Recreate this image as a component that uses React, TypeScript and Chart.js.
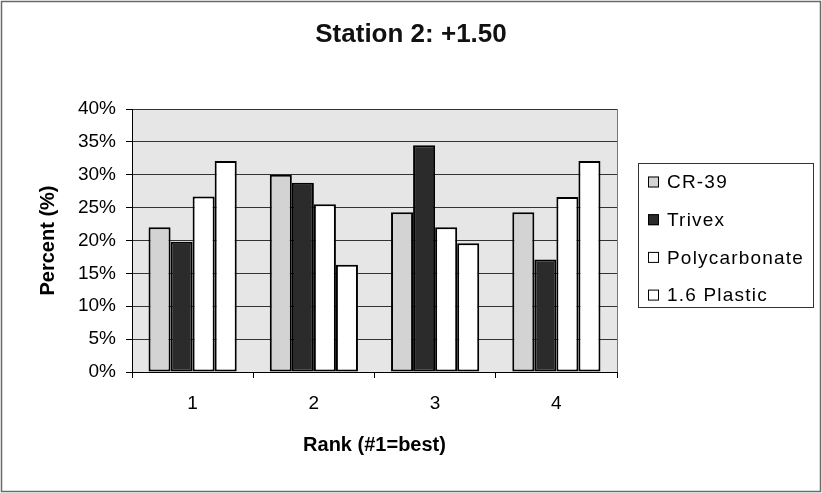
import React, { useEffect, useRef } from "react";
import { Chart, registerables } from "chart.js";

Chart.register(...registerables);

const categories = ["1", "2", "3", "4"];
const seriesNames = ["CR-39", "Trivex", "Polycarbonate", "1.6 Plastic"];
const cr39 = [22.0, 30.0, 24.3, 24.3];
const trivex = [19.8, 28.8, 34.5, 17.1];
const polycarbonate = [26.7, 25.5, 22.0, 26.6];
const plastic16 = [32.1, 16.3, 19.6, 32.1];
const seriesColors = ["#d3d3d3", "#2b2b2b", "#ffffff", "#ffffff"];
const yTicks = [0, 5, 10, 15, 20, 25, 30, 35, 40];

const FONT = "Arial, 'Liberation Sans', sans-serif";

const framePlugin = {
  id: "frame",
  beforeDraw(chart: any) {
    const { ctx, chartArea: a, width, height } = chart;
    ctx.save();
    ctx.fillStyle = "#ffffff";
    ctx.fillRect(0, 0, width, height);
    ctx.strokeStyle = "#6a6a6a";
    ctx.lineWidth = 1.5;
    ctx.strokeRect(1.5, 1.5, width - 3, height - 3);
    ctx.fillStyle = "#e6e6e6";
    ctx.fillRect(a.left, a.top, a.right - a.left, a.bottom - a.top);
    ctx.strokeStyle = "#777777";
    ctx.lineWidth = 1;
    ctx.strokeRect(a.left + 0.5, a.top + 0.5, a.right - a.left, a.bottom - a.top);
    ctx.restore();
  },
  afterDraw(chart: any) {
    const { ctx, chartArea: a } = chart;
    const bx = a.right + 21;
    const by = 163;
    const bw = 175;
    const bh = 144;
    ctx.save();
    ctx.fillStyle = "#ffffff";
    ctx.fillRect(bx, by, bw, bh);
    ctx.strokeStyle = "#333333";
    ctx.lineWidth = 1;
    ctx.strokeRect(bx + 0.5, by + 0.5, bw, bh);
    const rowH = 37.7;
    chart.data.datasets.forEach((ds: any, i: number) => {
      const cy = by + 19 + i * rowH;
      ctx.fillStyle = ds.backgroundColor;
      ctx.fillRect(bx + 10, cy - 5.5, 11, 11);
      ctx.strokeStyle = "#000";
      ctx.lineWidth = 1;
      ctx.strokeRect(bx + 10.5, cy - 5, 10, 10);
      ctx.fillStyle = "#000";
      ctx.font = `19px ${FONT}`;
      (ctx as any).letterSpacing = "1.2px";
      ctx.textBaseline = "middle";
      ctx.textAlign = "left";
      ctx.fillText(ds.label, bx + 29, cy + 1);
    });
    ctx.restore();
  },
};

export default function App() {
  const ref = useRef<HTMLCanvasElement | null>(null);
  useEffect(() => {
    if (!ref.current) return;
    const values = [cr39, trivex, polycarbonate, plastic16];
    const chart = new Chart(ref.current, {
      type: "bar",
      data: {
        labels: categories,
        datasets: seriesNames.map((name, i) => ({
          label: name,
          data: values[i],
          backgroundColor: seriesColors[i],
          borderColor: "#000000",
          borderWidth: 2,
          borderSkipped: false,
          categoryPercentage: 4 / 5.5,
          barPercentage: 1,
        })),
      },
      options: {
        responsive: false,
        animation: false,
        layout: { padding: 0 },
        plugins: {
          legend: { display: false },
          tooltip: { enabled: false },
          title: {
            display: true,
            text: "Station 2: +1.50",
            color: "#111",
            font: { family: FONT, size: 26, weight: "bold" },
            padding: { top: 19, bottom: 58.8 },
          },
        },
        scales: {
          x: {
            afterFit: (s: any) => {
              s.height = 121;
            },
            grid: {
              offset: true,
              drawOnChartArea: false,
              drawTicks: true,
              tickLength: 6,
              tickColor: "#000",
            },
            border: { display: true, color: "#000", width: 1 },
            ticks: {
              color: "#000",
              padding: 14,
              font: { family: FONT, size: 19 },
            },
            title: {
              display: true,
              text: "Rank (#1=best)",
              color: "#000",
              font: { family: FONT, size: 20, weight: "bold" },
              padding: { top: 0, bottom: 36 },
            },
          },
          y: {
            min: 0,
            max: 40,
            afterFit: (s: any) => {
              s.width = 132;
            },
            afterBuildTicks: (s: any) => {
              s.ticks = yTicks.map((v) => ({ value: v }));
            },
            grid: {
              color: "#333333",
              lineWidth: 1,
              drawTicks: true,
              tickLength: 6,
              tickColor: "#000",
            },
            border: { display: true, color: "#000", width: 1 },
            ticks: {
              color: "#000",
              padding: 10,
              font: { family: FONT, size: 19 },
              callback: (v: any) => `${v}%`,
            },
            title: {
              display: true,
              text: "Percent (%)",
              color: "#000",
              font: { family: FONT, size: 20, weight: "bold" },
              padding: { top: 36, bottom: 0 },
            },
          },
          legendSpace: {
            type: "linear",
            position: "right",
            display: true,
            afterFit: (s: any) => {
              s.width = 205;
            },
            grid: { display: false, drawTicks: false },
            border: { display: false },
            ticks: { display: false },
          },
        },
      } as any,
      plugins: [framePlugin],
    });
    return () => chart.destroy();
  }, []);
  return (
    <div style={{ position: "absolute", left: 0, top: 0, width: 822, height: 493 }}>
      <canvas ref={ref} width={822} height={493} />
    </div>
  );
}
